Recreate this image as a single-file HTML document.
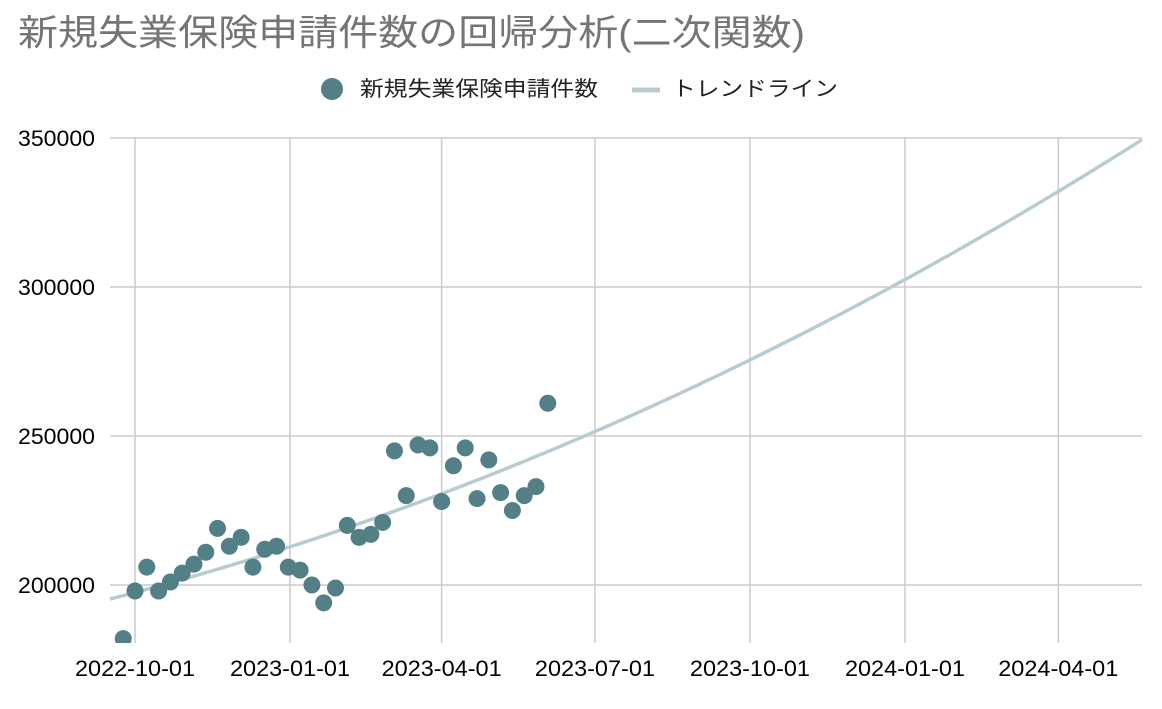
<!DOCTYPE html>
<html><head><meta charset="utf-8"><style>
body{margin:0;background:#fff;width:1162px;height:704px;overflow:hidden;font-family:"Liberation Sans","Noto Sans CJK JP",sans-serif;}
</style></head><body>
<svg width="1162" height="704" style="font-family:'Liberation Sans','Noto Sans CJK JP',sans-serif">
<defs><clipPath id="pc"><rect x="110" y="120" width="1040" height="523"/></clipPath></defs>
<text x="18" y="45" font-size="36" fill="#757575" textLength="787" lengthAdjust="spacingAndGlyphs">新規失業保険申請件数の回帰分析(二次関数)</text>
<g>
<circle cx="332" cy="89" r="11" fill="#537f87"/>
<text x="360" y="96" font-size="21" fill="#222" textLength="238" lengthAdjust="spacingAndGlyphs">新規失業保険申請件数</text>
<line x1="632" y1="90" x2="660" y2="90" stroke="#b8cbd1" stroke-width="5"/>
<text x="672" y="96" font-size="21" fill="#222" textLength="166" lengthAdjust="spacingAndGlyphs">トレンドライン</text>
</g>
<g id="grid"></g><g id="ylab"></g><g id="xlab"></g>
<g id="plot" clip-path="url(#pc)"></g>
</svg>
<script>
const yTicks=[200000,250000,300000,350000];
const xTickLabels=["2022-10-01","2023-01-01","2023-04-01","2023-07-01","2023-10-01","2024-01-01","2024-04-01"];
const startDate="2022-09-24";
const values=[182000,198000,206000,198000,201000,204000,207000,211000,219000,213000,216000,206000,212000,213000,206000,205000,200000,194000,199000,220000,216000,217000,221000,245000,230000,247000,246000,228000,240000,246000,229000,242000,231000,225000,230000,233000,261000];
const trendCoef=[197500,150.39,0.17367];
const NS="http://www.w3.org/2000/svg";
const day0=Date.UTC(2022,9,1);
function days(s){const p=s.split("-");return (Date.UTC(+p[0],+p[1]-1,+p[2])-day0)/86400000;}
function X(d){return 135+d*1.6848;}
function Y(v){return 585-(v-200000)*149/50000;}
function mk(tag,attrs,parent){const e=document.createElementNS(NS,tag);for(const k in attrs)e.setAttribute(k,attrs[k]);document.getElementById(parent).appendChild(e);return e;}
yTicks.forEach(v=>{
 const l=mk("line",{x1:110,x2:1142,y1:Y(v),y2:Y(v),stroke:"#cccccc","stroke-width":1.5},"grid");
 
 
 const t=mk("text",{x:18,y:Y(v)+8,"font-size":22,fill:"#000",textLength:77,lengthAdjust:"spacingAndGlyphs"},"ylab");t.textContent=v;
 
 
});
xTickLabels.forEach(s=>{
 const x=X(days(s));
 const l=mk("line",{x1:x,x2:x,y1:138,y2:643,stroke:"#cccccc","stroke-width":1.5},"grid");
 
 
 const t=mk("text",{x:x-60,y:676,"font-size":22,fill:"#000",textLength:120,lengthAdjust:"spacingAndGlyphs"},"xlab");t.textContent=s;
 
 
});
let pts=[];
for(let x=110;x<=1142;x+=4){const d=(x-135)/1.6848;const v=trendCoef[0]+trendCoef[1]*d+trendCoef[2]*d*d;pts.push(x+","+Y(v).toFixed(1));}
const tl=mk("polyline",{points:pts.join(" "),fill:"none",stroke:"#b8cbd1","stroke-width":3.5},"plot");


const s0=days(startDate);
values.forEach((v,i)=>{
 const c=mk("circle",{cx:X(s0+7*i),cy:Y(v),r:8.5,fill:"#537f87"},"plot");
 
 
});
</script>
</body></html>
